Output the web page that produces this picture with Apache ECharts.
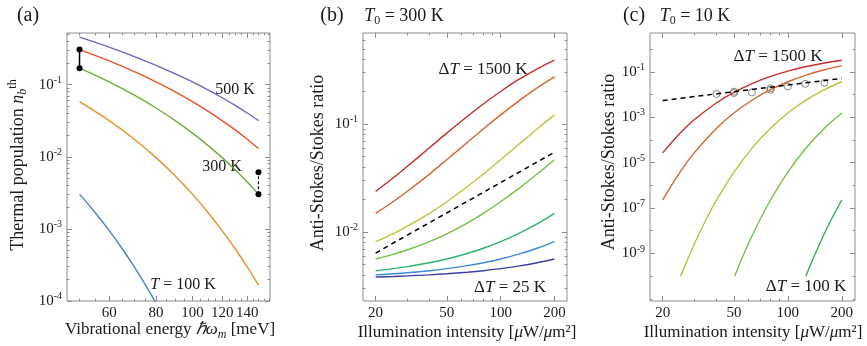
<!DOCTYPE html>
<html>
<head>
<meta charset="utf-8">
<script src="https://cdn.jsdelivr.net/npm/echarts@6.0.0/dist/echarts.min.js"></script>
<style>
  html, body { margin: 0; padding: 0; background: #fff; }
  #chart { width: 867px; height: 346px; }
</style>
</head>
<body>
<div id="chart"></div>
<script>
// (a) thermal population vs vibrational energy
const energy = [50, 60, 70, 80, 90, 100, 110, 120, 130, 140, 150]
const nb500 = [0.456, 0.331, 0.245, 0.185, 0.141, 0.109, 0.0844, 0.0658, 0.0515, 0.0404, 0.0317]
const nb400 = [0.306, 0.213, 0.151, 0.109, 0.0793, 0.0582, 0.0429, 0.0317, 0.0236, 0.0175, 0.0130]
const nb300 = [0.169, 0.109, 0.0715, 0.0474, 0.0317, 0.0213, 0.0144, 0.00973, 0.00659, 0.00447, 0.00303]
const nb200 = [0.0582, 0.0317, 0.0175, 0.00973, 0.00543, 0.00303, 0.00169, 0.000948, 0.000530, 0.000297, 0.000166]
const energyLow = [50, 55, 60, 65, 70, 75, 80]
const nb100 = [0.00303, 0.00169, 0.000948, 0.000530, 0.000297, 0.000166, 0.0000929]
const dotsLeft = [[50, 0.169], [50, 0.306]]
const dotsRight = [[150, 0.00303], [150, 0.0061]]
const energyTicks = [60, 80, 100, 120, 140]
const energyMinor = [50, 55, 65, 70, 75, 85, 90, 95, 105, 110, 115, 125, 130, 135, 145, 150, 155, 160]
const popTicks = [1e-4, 1e-3, 1e-2, 1e-1]
const popMinor = [2e-4, 3e-4, 4e-4, 5e-4, 6e-4, 7e-4, 8e-4, 9e-4, 2e-3, 3e-3, 4e-3, 5e-3, 6e-3, 7e-3, 8e-3, 9e-3,
  2e-2, 3e-2, 4e-2, 5e-2, 6e-2, 7e-2, 8e-2, 9e-2, 2e-1, 3e-1, 4e-1, 5e-1]

// (b) T0 = 300 K
const intensity = [20, 25, 30, 40, 50, 65, 80, 100, 125, 160, 200]
const b25 = [0.00384, 0.00388, 0.00393, 0.00402, 0.00411, 0.00425, 0.00439, 0.00459, 0.00484, 0.00520, 0.00564]
const b50 = [0.00402, 0.00411, 0.00420, 0.00439, 0.00459, 0.00489, 0.00520, 0.00564, 0.00622, 0.00709, 0.00817]
const b100 = [0.00439, 0.00459, 0.00479, 0.00520, 0.00564, 0.00634, 0.00709, 0.00817, 0.00964, 0.0119, 0.0149]
const b250 = [0.00564, 0.00622, 0.00683, 0.00817, 0.00964, 0.0121, 0.0149, 0.0191, 0.0250, 0.0345, 0.0469]
const b500 = [0.00817, 0.00964, 0.0113, 0.0149, 0.0191, 0.0263, 0.0345, 0.0469, 0.0641, 0.0904, 0.122]
const b1000 = [0.0149, 0.0191, 0.0238, 0.0345, 0.0469, 0.0677, 0.0904, 0.122, 0.162, 0.217, 0.274]
const b1500 = [0.0238, 0.0317, 0.0406, 0.0605, 0.0827, 0.118, 0.154, 0.201, 0.257, 0.326, 0.393]
const bDashed = [[20, 0.0064], [200, 0.055]]
const intensityTicks = [20, 50, 100, 200]
const intensityMinor = [30, 40, 60, 70, 80, 90]
const ratioTicksB = [1e-2, 1e-1]
const ratioMinorB = [3e-3, 4e-3, 5e-3, 6e-3, 7e-3, 8e-3, 9e-3, 2e-2, 3e-2, 4e-2, 5e-2, 6e-2, 7e-2, 8e-2, 9e-2,
  2e-1, 3e-1, 4e-1, 5e-1, 6e-1]

// (c) T0 = 10 K
const c1500 = [2.71e-5, 1.99e-4, 7.77e-4, 0.00439, 0.0126, 0.0340, 0.0634, 0.109, 0.169, 0.249, 0.328]
const c1000 = [2.27e-7, 3.86e-6, 2.71e-5, 3.31e-4, 0.00155, 0.00659, 0.0165, 0.0369, 0.0707, 0.125, 0.189]
const c500 = [[25.2, 1.0e-10], [30, 2.53e-9], [35, 3.20e-8], [40, 2.27e-7], [50, 3.86e-6], [65, 5.80e-5],
  [80, 3.31e-4], [100, 1.55e-3], [125, 5.42e-3], [160, 0.0165], [200, 0.0369]]
const c250 = [[50.5, 1.0e-10], [55, 5.25e-10], [65, 9.80e-9], [80, 2.27e-7], [100, 3.86e-6], [125, 4.02e-5],
  [160, 3.31e-4], [200, 1.55e-3]]
const c100 = [[126, 1.0e-10], [140, 7.33e-10], [160, 7.59e-9], [180, 4.92e-8], [200, 2.27e-7]]
const cDashed = [[20, 0.0055], [200, 0.052]]
const measI = [40, 50, 50, 63, 80, 80, 100, 125, 160]
const measRatio = [0.0107, 0.0118, 0.0135, 0.0125, 0.0162, 0.0191, 0.0228, 0.030, 0.033]
const ratioTicksC = [1e-9, 1e-7, 1e-5, 1e-3, 1e-1]
const ratioMinorC = [1e-11, 1e-10, 1e-8, 1e-6, 1e-4, 1e-2, 1]

const serif = 'Liberation Serif'
const ink = '#1a1a1a'
const frame = '#8c8c8c'

// rich text styles at a given font size
function richAt(size) {
  const small = Math.round(size * 0.68)
  const lh = size + 4
  return {
    r: { fontFamily: serif, fontSize: size, color: ink, lineHeight: lh },
    i: { fontFamily: serif, fontSize: size, fontStyle: 'italic', color: ink, lineHeight: lh },
    sub: { fontFamily: serif, fontSize: small, color: ink, verticalAlign: 'bottom', lineHeight: small + 1 },
    isub: { fontFamily: serif, fontSize: small, fontStyle: 'italic', color: ink, verticalAlign: 'bottom', lineHeight: small + 1 },
    sup: { fontFamily: serif, fontSize: small, color: ink, verticalAlign: 'top', lineHeight: small + 1 }
  }
}

const powRich = {
  b: { fontFamily: serif, fontSize: 15, color: ink, lineHeight: 19 },
  s: { fontFamily: serif, fontSize: 10, color: ink, verticalAlign: 'top', lineHeight: 10 }
}

function powLabel(v) {
  return '{b|10}{s|' + Math.round(Math.log10(v)) + '}'
}

function plainLabel(v) {
  return String(Math.round(v))
}

// frame ticks on all four sides, major + minor
function makeAxes(dim, gridIndex, min, max, major, minor, fmt, rich) {
  const sides = dim === 'x' ? ['bottom', 'top'] : ['left', 'right']
  const base = {
    type: 'log', logBase: 10, gridIndex, min, max,
    splitLine: { show: false },
    axisLine: { show: false, onZero: false }
  }
  const tick = (vals, len) => ({
    show: true, inside: true, length: len, customValues: vals,
    lineStyle: { color: frame, width: 1 }
  })
  return [
    {
      ...base, position: sides[0], axisTick: tick(major, 5),
      axisLabel: {
        customValues: major, formatter: fmt, rich, margin: 5,
        fontFamily: serif, fontSize: 15, color: ink
      }
    },
    { ...base, position: sides[1], axisTick: tick(major, 5), axisLabel: { show: false } },
    { ...base, position: sides[0], axisTick: tick(minor, 2.5), axisLabel: { show: false } },
    { ...base, position: sides[1], axisTick: tick(minor, 2.5), axisLabel: { show: false } }
  ]
}

function line(axis, data, color, extra) {
  return Object.assign({
    type: 'line', xAxisIndex: axis, yAxisIndex: axis, data,
    showSymbol: false, smooth: 0.35, silent: true,
    lineStyle: { color, width: 1.4 }, itemStyle: { color }
  }, extra || {})
}

function zip(xs, ys) {
  return xs.map((x, i) => [x, ys[i]])
}

function text(x, y, str, size, rotation) {
  return {
    type: 'text', x, y, rotation: rotation || 0,
    style: {
      text: str, rich: richAt(size), fill: ink,
      font: size + 'px "Liberation Serif"',
      align: 'center', verticalAlign: 'middle',
      textAlign: 'center', textVerticalAlign: 'middle'
    }
  }
}

const grid = [
  { left: 67, right: 597, top: 33, bottom: 45 },
  { left: 363, right: 300, top: 33, bottom: 45 },
  { left: 650, right: 12, top: 33, bottom: 45 }
].map(g => Object.assign(g, { show: true, borderColor: frame, borderWidth: 1, backgroundColor: 'transparent' }))

const xAxis = [
  ...makeAxes('x', 0, 46.3, 161, energyTicks, energyMinor, plainLabel, null),
  ...makeAxes('x', 1, 17, 235, intensityTicks, intensityMinor, plainLabel, null),
  ...makeAxes('x', 2, 17, 237, intensityTicks, intensityMinor, plainLabel, null)
]
const yAxis = [
  ...makeAxes('y', 0, 1e-4, 0.52, popTicks, popMinor, powLabel, powRich),
  ...makeAxes('y', 1, 0.0023, 0.7, ratioTicksB, ratioMinorB, powLabel, powRich),
  ...makeAxes('y', 2, 8e-12, 5.2, ratioTicksC, ratioMinorC, powLabel, powRich)
]

const dash = [5, 4]
const dotStyle = { smooth: false, showSymbol: true, symbol: 'circle', symbolSize: 6 }

const series = [
  // (a)
  line(0, zip(energyLow, nb100), '#4a7fc9'),
  line(0, zip(energy, nb200), '#e3912b'),
  line(0, zip(energy, nb300), '#6fab3c'),
  line(0, zip(energy, nb400), '#ef4f2d'),
  line(0, zip(energy, nb500), '#7163c2'),
  line(0, dotsLeft, '#000', { ...dotStyle, lineStyle: { color: '#000', width: 1.5 } }),
  line(0, dotsRight, '#000', { ...dotStyle, lineStyle: { color: '#000', width: 1.2, type: [3, 2] } }),
  // (b)
  line(4, zip(intensity, b25), '#3d3fa6'),
  line(4, zip(intensity, b50), '#3a88dc'),
  line(4, zip(intensity, b100), '#2cb36c'),
  line(4, zip(intensity, b250), '#74c243'),
  line(4, zip(intensity, b500), '#c4c13a'),
  line(4, zip(intensity, b1000), '#d9642e'),
  line(4, zip(intensity, b1500), '#c62d2d'),
  line(4, bDashed, '#000', { smooth: false, lineStyle: { color: '#000', width: 1.5, type: dash } }),
  // (c)
  line(8, zip(intensity, c1500), '#c62d2d'),
  line(8, zip(intensity, c1000), '#d9642e'),
  line(8, c500, '#bcc03a'),
  line(8, c250, '#74c243'),
  line(8, c100, '#2fb24a'),
  {
    type: 'scatter', xAxisIndex: 8, yAxisIndex: 8, data: zip(measI, measRatio),
    symbol: 'circle', symbolSize: 7, silent: true,
    itemStyle: { color: 'rgba(255,255,255,0)', borderColor: '#666', borderWidth: 1 }
  },
  line(8, cDashed, '#000', { smooth: false, lineStyle: { color: '#000', width: 1.5, type: dash } })
]

const graphic = [
  text(28, 16, '{r|(a)}', 20),
  text(332, 16, '{r|(b)}', 20),
  text(634, 16, '{r|(c)}', 20),
  text(404, 16, '{i|T}{sub|0}{r| = 300 K}', 18),
  text(695, 16, '{i|T}{sub|0}{r| = 10 K}', 18),
  // axis titles
  text(18, 165, '{r|Thermal population }{i|n}{isub|b}{sup|th}', 18, Math.PI / 2),
  text(318, 163, '{r|Anti-Stokes/Stokes ratio}', 18, Math.PI / 2),
  text(609, 162, '{r|Anti-Stokes/Stokes ratio}', 18, Math.PI / 2),
  text(170, 330, '{r|Vibrational energy }{i|ℏω}{isub|m}{r| [meV]}', 17),
  text(467, 333, '{r|Illumination intensity [}{i|μ}{r|W/}{i|μ}{r|m²]}', 17),
  text(753, 333, '{r|Illumination intensity [}{i|μ}{r|W/}{i|μ}{r|m²]}', 17),
  // curve annotations
  text(235, 90, '{r|500 K}', 16),
  text(222, 167, '{r|300 K}', 16),
  text(183, 285, '{i|T}{r| = 100 K}', 16),
  text(483, 70, '{r|Δ}{i|T}{r| = 1500 K}', 17),
  text(510, 288, '{r|Δ}{i|T}{r| = 25 K}', 17),
  text(778, 57, '{r|Δ}{i|T}{r| = 1500 K}', 17),
  text(806, 287, '{r|Δ}{i|T}{r| = 100 K}', 17)
]

const chart = echarts.init(document.getElementById('chart'), null, { renderer: 'canvas' })
chart.setOption({
  animation: false,
  backgroundColor: '#fff',
  grid,
  xAxis,
  yAxis,
  series,
  graphic
})
</script>
</body>
</html>
